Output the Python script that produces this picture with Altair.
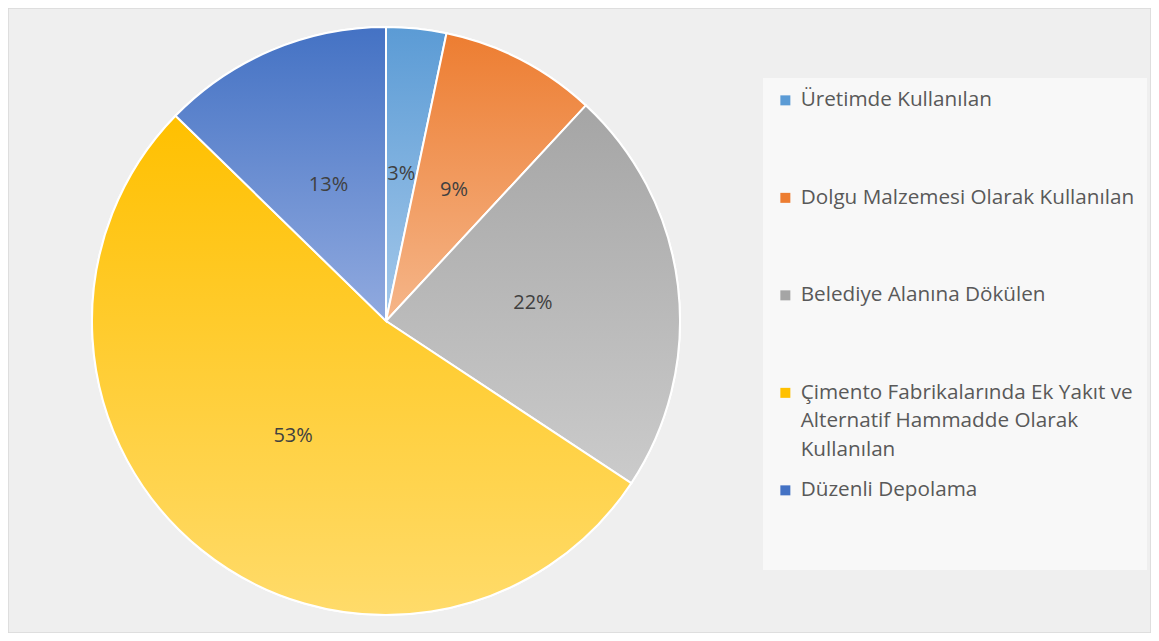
import altair as alt
import pandas as pd

categories = [
    "Üretimde Kullanılan",
    "Dolgu Malzemesi Olarak Kullanılan",
    "Belediye Alanına Dökülen",
    "Çimento Fabrikalarında Ek Yakıt ve Alternatif Hammadde Olarak Kullanılan",
    "Düzenli Depolama",
]
values = [3.3, 8.6, 22.4, 53.0, 12.7]
labels = ["3%", "9%", "22%", "53%", "13%"]
order = [1, 2, 3, 4, 5]
base_colors = ["#5B9BD5", "#ED7D31", "#A5A5A5", "#FFC000", "#4472C4"]
light_colors = ["#A4C8EA", "#F5B68A", "#CBCBCB", "#FFDB6A", "#91AADF"]

df = pd.DataFrame({"category": categories, "value": values, "label": labels, "order": order})

CX, CY, R = 378, 313, 294
FONT = "Open Sans"

base = (
    alt.Chart(df)
    .transform_joinaggregate(total="sum(value)")
    .transform_window(cum="sum(value)", sort=[alt.SortField("order")], frame=[None, 0])
    .transform_calculate(
        start="(datum.cum - datum.value) / datum.total",
        end="datum.cum / datum.total",
        mid="(datum.cum - datum.value / 2) / datum.total",
    )
)
theta_scale = alt.Scale(domain=[0, 1])

multi = categories[3]
label_expr = (
    f"datum.label == '{multi}' ? "
    "['Çimento Fabrikalarında Ek Yakıt ve', 'Alternatif Hammadde Olarak', 'Kullanılan'] : "
    "[datum.label, '', '']"
)

legend_layer = base.mark_arc(radius=R, stroke="white", strokeWidth=2).encode(
    theta=alt.Theta("start:Q", scale=theta_scale),
    theta2="end:Q",
    x=alt.value(CX),
    y=alt.value(CY),
    color=alt.Color(
        "category:N",
        scale=alt.Scale(domain=categories, range=base_colors),
        sort=categories,
        legend=alt.Legend(
            title=None,
            orient="none",
            legendX=755,
            legendY=70,
            direction="vertical",
            symbolType="square",
            symbolSize=100,
            symbolStrokeWidth=0,
            labelFont=FONT,
            labelFontSize=20.7,
            labelColor="#595959",
            labelLimit=500,
            labelOffset=5,
            rowPadding=18.5,
            padding=12,
            fillColor="#f8f8f8",
            labelExpr=label_expr,
        ),
    ),
)

layers = [legend_layer]
for cat, c0, c1 in zip(categories, base_colors, light_colors):
    grad = alt.Gradient(
        gradient="linear",
        x1=0, y1=0, x2=0, y2=1,
        stops=[alt.GradientStop(color=c0, offset=0), alt.GradientStop(color=c1, offset=1)],
    )
    layers.append(
        base.transform_filter(alt.datum.category == cat)
        .mark_arc(radius=R, stroke="white", strokeWidth=2, fill=grad)
        .encode(
            theta=alt.Theta("start:Q", scale=theta_scale),
            theta2="end:Q",
            x=alt.value(CX),
            y=alt.value(CY),
        )
    )

text_layer = base.mark_text(radius=148, font=FONT, fontSize=20, color="#404040").encode(
    theta=alt.Theta("mid:Q", scale=theta_scale),
    text="label:N",
    x=alt.value(CX),
    y=alt.value(CY),
)
layers.append(text_layer)

chart = (
    alt.layer(*layers)
    .properties(width=1143, height=625, padding=0, autosize="none")
    .configure(style={"guide-label": {"lineHeight": 28.5}})
    .configure_view(stroke="#d9d9d9", strokeWidth=1.5, fill="#efefef")
)

chart.save("out.html", embed_options={"renderer": "svg", "actions": False})
